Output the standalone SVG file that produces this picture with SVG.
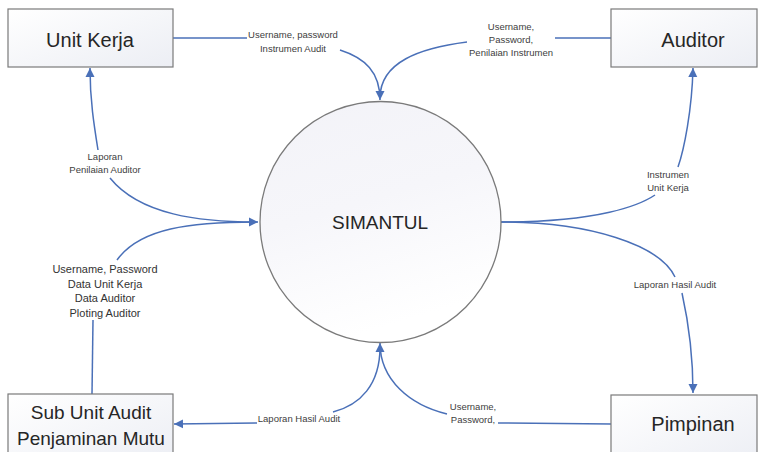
<svg xmlns="http://www.w3.org/2000/svg" width="766" height="452" viewBox="0 0 766 452">
<style>
.box{stroke:#7a7a7a;stroke-width:1.2;fill:url(#bg)}
.node{font-family:"Liberation Sans",Arial,sans-serif;font-size:20px;fill:#262626;text-anchor:middle}
.lbl{font-family:"Liberation Sans",Arial,sans-serif;font-size:9.5px;fill:#404040;text-anchor:middle}
.lbl2{font-family:"Liberation Sans",Arial,sans-serif;font-size:11px;fill:#333;text-anchor:middle}
.c{fill:none;stroke:#4a70b8;stroke-width:1.5}
</style>
<defs>
<linearGradient id="bg" x1="0" y1="0" x2="1" y2="1">
<stop offset="0" stop-color="#ffffff"/><stop offset="1" stop-color="#eceef4"/>
</linearGradient>
<linearGradient id="cg" x1="0" y1="0" x2="0.3" y2="1">
<stop offset="0" stop-color="#f3f3f8"/><stop offset="0.5" stop-color="#f6f6fa"/><stop offset="1" stop-color="#ffffff"/>
</linearGradient>
<marker id="ar" markerUnits="userSpaceOnUse" markerWidth="10" markerHeight="10" refX="9" refY="5" orient="auto">
<path d="M0,0.5 L9,5 L0,9.5 Z" fill="#4a70b8"/>
</marker>
</defs>
<g id="connectors">
<path class="c" d="M173,38 L247,38"/>
<path class="c" d="M340,50 C365,58 380,72 380,100" marker-end="url(#ar)"/>
<path class="c" d="M611,38 L555,38"/>
<path class="c" d="M467,42 C420,48 380,62 380,98"/>
<path class="c" d="M98,150 C94,125 90,100 90,68" marker-end="url(#ar)"/>
<path class="c" d="M110,178 C140,215 200,222 256,222"/>
<path class="c" d="M92,394 L93,320"/>
<path class="c" d="M117,260 C140,228 190,222 258,222" marker-end="url(#ar)"/>
<path class="c" d="M501,222 C600,222 640,205 655,195"/>
<path class="c" d="M678,167 C684,150 692,110 693,68" marker-end="url(#ar)"/>
<path class="c" d="M501,222 C590,222 660,245 675,277"/>
<path class="c" d="M682,293 C688,320 693,350 693,393" marker-end="url(#ar)"/>
<path class="c" d="M611,424 L498,423"/>
<path class="c" d="M447,414 C410,405 380,380 380,343" marker-end="url(#ar)"/>
<path class="c" d="M380,347 C380,385 360,405 333,412"/>
<path class="c" d="M257,423 L174,424" marker-end="url(#ar)"/>
</g>
<g id="lbl-e1"><text class="lbl" x="293" y="38">Username, password</text><text class="lbl" x="293" y="52">Instrumen Audit</text></g>
<g id="lbl-e2"><text class="lbl" x="511" y="30">Username,</text><text class="lbl" x="511" y="43">Password,</text><text class="lbl" x="511" y="56">Penilaian Instrumen</text></g>
<g id="lbl-e3"><text class="lbl" x="105" y="160">Laporan</text><text class="lbl" x="105" y="173">Penilaian Auditor</text></g>
<g id="lbl-e4"><text class="lbl2" x="105" y="273">Username, Password</text><text class="lbl2" x="105" y="288">Data Unit Kerja</text><text class="lbl2" x="105" y="302">Data Auditor</text><text class="lbl2" x="105" y="317">Ploting Auditor</text></g>
<g id="lbl-e5"><text class="lbl" x="668" y="178">Instrumen</text><text class="lbl" x="668" y="191">Unit Kerja</text></g>
<g id="lbl-e6"><text class="lbl" x="675" y="288">Laporan Hasil Audit</text></g>
<g id="lbl-e7"><text class="lbl" x="473" y="410">Username,</text><text class="lbl" x="473" y="423">Password,</text></g>
<g id="lbl-e8"><text class="lbl" x="299" y="422">Laporan Hasil Audit</text></g>
<g id="unit-kerja"><rect class="box" x="8" y="9" width="165" height="58"/><text class="node" x="90" y="47">Unit Kerja</text></g>
<g id="auditor"><rect class="box" x="611" y="9" width="146" height="58"/><text class="node" x="693" y="47">Auditor</text></g>
<g id="simantul"><circle cx="380.5" cy="222" r="120.5" fill="url(#cg)" stroke="#7a7a7a" stroke-width="1.3"/><text class="node" x="380" y="229" style="font-size:19px">SIMANTUL</text></g>
<g id="sub-unit"><rect class="box" x="8" y="394" width="165" height="70"/><text class="node" x="91" y="419" style="font-size:19px">Sub Unit Audit</text><text class="node" x="91" y="445" style="font-size:19px">Penjaminan Mutu</text></g>
<g id="pimpinan"><rect class="box" x="611" y="395" width="146" height="70"/><text class="node" x="693" y="431">Pimpinan</text></g>
</svg>
